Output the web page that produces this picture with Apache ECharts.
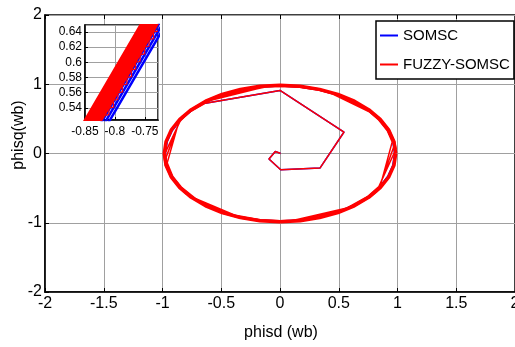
<!DOCTYPE html>
<html>
<head>
<meta charset="utf-8">
<script src="https://cdn.jsdelivr.net/npm/echarts@6/dist/echarts.min.js"></script>
<style>
  html, body { margin: 0; padding: 0; background: #fff; }
  #chart { width: 515px; height: 347px; }
</style>
</head>
<body>
<div id="chart"></div>
<script>
// flux locus, phisd vs phisq (wb)
var startup = [[0.005, 0], [0.005, 0.02], [-0.04, 0.03], [-0.094, -0.08], [0.006, -0.235],
  [0.34, -0.21], [0.545, 0.31], [0, 0.91], [-0.66, 0.72]];

var somscRing = [[-0.747, 0.627], [-0.844, 0.488], [-0.916, 0.333], [-0.960, 0.169], [-0.975, 0],
  [-0.960, -0.169], [-0.916, -0.333], [-0.844, -0.488], [-0.747, -0.627], [-0.627, -0.747],
  [-0.488, -0.844], [-0.333, -0.916], [-0.169, -0.960], [0, -0.975], [0.169, -0.960],
  [0.333, -0.916], [0.488, -0.844], [0.627, -0.747], [0.747, -0.627], [0.844, -0.488],
  [0.916, -0.333], [0.960, -0.169], [0.975, 0], [0.960, 0.169], [0.916, 0.333],
  [0.844, 0.488], [0.747, 0.627], [0.627, 0.747], [0.488, 0.844], [0.333, 0.916],
  [0.169, 0.960], [0, 0.975], [-0.169, 0.960], [-0.333, 0.916], [-0.488, 0.844],
  [-0.627, 0.747], [-0.747, 0.627]];

var fuzzyRing = [[0.985, 0], [0.970, 0.171], [0.926, 0.337], [0.853, 0.493], [0.755, 0.633],
  [0.633, 0.755], [0.493, 0.853], [0.337, 0.926], [0.171, 0.970], [0, 0.985],
  [-0.171, 0.970], [-0.337, 0.926], [-0.493, 0.853], [-0.633, 0.755], [-0.755, 0.633],
  [-0.853, 0.493], [-0.926, 0.337], [-0.970, 0.171], [-0.985, 0], [-0.970, -0.171],
  [-0.926, -0.337], [-0.853, -0.493], [-0.755, -0.633], [-0.633, -0.755], [-0.493, -0.853],
  [-0.337, -0.926], [-0.171, -0.970], [0, -0.985], [0.171, -0.970], [0.337, -0.926],
  [0.493, -0.853], [0.633, -0.755], [0.755, -0.633], [0.853, -0.493], [0.926, -0.337],
  [0.970, -0.171], [0.985, 0]];

// loops with the sector chords
var fuzzyLoopA = [[-0.751, 0.630], [-0.849, 0.490], [-0.976, -0.085], [-0.965, -0.171], [-0.921, -0.335],
  [-0.849, -0.490], [-0.761, -0.616], [-0.429, -0.881], [-0.335, -0.921], [-0.171, -0.965],
  [0, -0.98], [0.069, -0.978], [0.534, -0.822], [0.630, -0.751], [0.751, -0.630],
  [0.840, -0.505], [0.973, 0.120], [0.965, 0.171], [0.921, 0.335], [0.849, 0.490],
  [0.803, 0.563], [0.490, 0.849], [0.335, 0.921], [0.171, 0.965], [0, 0.98],
  [-0.085, 0.976], [-0.563, 0.803], [-0.630, 0.751], [-0.751, 0.630]];
var fuzzyLoopB = [[-0.743, 0.624], [-0.840, 0.485], [-0.864, 0.440], [-0.960, -0.135], [-0.912, -0.332],
  [-0.840, -0.485], [-0.721, -0.649], [-0.379, -0.893], [-0.169, -0.955], [0, -0.97],
  [0.118, -0.963], [0.570, -0.785], [0.743, -0.624], [0.856, -0.455], [0.955, 0.168],
  [0.912, 0.332], [0.840, 0.485], [0.764, 0.598], [0.440, 0.864], [0.332, 0.912],
  [0.168, 0.955], [0, 0.97], [-0.135, 0.961], [-0.597, 0.764], [-0.743, 0.624]];
var fuzzyLoopC = [[-0.758, 0.636], [-0.830, 0.539], [-0.989, -0.035], [-0.975, -0.172], [-0.930, -0.339],
  [-0.857, -0.495], [-0.801, -0.582], [-0.480, -0.866], [-0.339, -0.930], [-0.172, -0.975],
  [0.017, -0.990], [0.495, -0.857], [0.636, -0.758], [0.758, -0.636], [0.821, -0.554],
  [0.988, 0.069], [0.975, 0.172], [0.930, 0.339], [0.840, 0.525], [0.539, 0.830],
  [0.339, 0.930], [0.172, 0.975], [-0.035, 0.989], [-0.525, 0.840], [-0.636, 0.758],
  [-0.758, 0.636]];

// zoomed window near (-0.8, 0.6): repeated crossings of the window
var fuzzyZoom = [[-0.868, 0.50], [-0.742, 0.67], [-0.738, 0.67], [-0.864, 0.50], [-0.860, 0.50],
  [-0.734, 0.67], [-0.730, 0.67], [-0.856, 0.50], [-0.852, 0.50], [-0.726, 0.67],
  [-0.722, 0.67], [-0.848, 0.50], [-0.844, 0.50], [-0.718, 0.67], [-0.714, 0.67],
  [-0.840, 0.50]];
var fuzzyZoomSteps = [[-0.818, 0.53], [-0.810, 0.531], [-0.810, 0.54], [-0.802, 0.541],
  [-0.803, 0.55], [-0.795, 0.551], [-0.795, 0.56], [-0.787, 0.561], [-0.788, 0.57], [-0.780, 0.571],
  [-0.780, 0.58], [-0.772, 0.581], [-0.773, 0.59], [-0.765, 0.591], [-0.766, 0.60], [-0.758, 0.601],
  [-0.758, 0.61], [-0.750, 0.611], [-0.751, 0.62], [-0.743, 0.621], [-0.743, 0.63], [-0.735, 0.631],
  [-0.736, 0.64], [-0.728, 0.641]];
var somscZoom = [[-0.838, 0.50], [-0.712, 0.67], [-0.706, 0.67], [-0.832, 0.50], [-0.826, 0.50],
  [-0.700, 0.67]];

var FONT = '"Liberation Sans", Arial, sans-serif';
var BLUE = '#0000ff';
var RED = '#ff0000';

var chart = echarts.init(document.getElementById('chart'));

var gridLine = { show: true, lineStyle: { color: '#a0a0a0', width: 1 } };
var frame = { onZero: false, lineStyle: { color: '#000', width: 1.5 } };

var option = {
  animation: false,
  grid: [
    { left: 45, right: 0, top: 15, bottom: 55, outerBoundsMode: 'none',
      show: true, borderColor: '#000', borderWidth: 1.5 },
    { left: 85, top: 25, width: 73, height: 95, outerBoundsMode: 'none', show: true, z: 5,
      backgroundColor: '#fff', borderColor: '#000', borderWidth: 1.5 }
  ],
  xAxis: [
    { type: 'value', gridIndex: 0, min: -2, max: 2, interval: 0.5,
      axisLine: frame,
      axisTick: { inside: true, length: 4, lineStyle: { color: '#000' } },
      axisLabel: { color: '#000', fontSize: 16, fontFamily: FONT, margin: 4 },
      splitLine: gridLine },
    { type: 'value', gridIndex: 0, position: 'top', min: -2, max: 2, interval: 0.5,
      axisLine: { show: false, onZero: false },
      axisTick: { inside: true, length: 4, lineStyle: { color: '#000' } },
      axisLabel: { show: false }, splitLine: { show: false } },
    { type: 'value', gridIndex: 1, min: -0.85, max: -0.728, interval: 0.05, z: 5,
      axisLine: frame,
      axisTick: { inside: true, length: 3, lineStyle: { color: '#000' } },
      axisLabel: { color: '#000', fontSize: 12, fontFamily: FONT, margin: 6 },
      splitLine: gridLine }
  ],
  yAxis: [
    { type: 'value', gridIndex: 0, min: -2, max: 2, interval: 1,
      axisLine: frame,
      axisTick: { inside: true, length: 4, lineStyle: { color: '#000' } },
      axisLabel: { color: '#000', fontSize: 16, fontFamily: FONT, margin: 3 },
      splitLine: gridLine },
    { type: 'value', gridIndex: 1, min: 0.524, max: 0.649, splitNumber: 6, z: 5,
      axisLine: frame,
      axisTick: { inside: true, length: 3, lineStyle: { color: '#000' } },
      axisLabel: { color: '#000', fontSize: 12, fontFamily: FONT, margin: 3,
        showMinLabel: false, showMaxLabel: false },
      splitLine: gridLine }
  ],
  legend: {
    data: ['SOMSC', 'FUZZY-SOMSC'],
    orient: 'vertical', left: 376, top: 21,
    padding: [7, 4, 7, 4], itemGap: 14, itemWidth: 18, itemHeight: 2, icon: 'rect',
    backgroundColor: '#fff', borderColor: '#000', borderWidth: 1.5, borderRadius: 0,
    textStyle: { color: '#000', fontSize: 15, fontFamily: FONT }
  },
  graphic: [
    { type: 'text', x: 281, y: 333,
      style: { text: 'phisd (wb)', fill: '#000', font: '16px ' + FONT, textAlign: 'center', textVerticalAlign: 'middle' } },
    { type: 'text', x: 19, y: 135, rotation: Math.PI / 2,
      style: { text: 'phisq(wb)', fill: '#000', font: '16px ' + FONT, textAlign: 'center', textVerticalAlign: 'middle' } }
  ],
  series: [
    { name: 'SOMSC', type: 'line', xAxisIndex: 0, yAxisIndex: 0, color: BLUE, z: 2,
      showSymbol: false, symbol: 'none', lineStyle: { color: BLUE, width: 1.5 },
      data: startup.concat(somscRing) },
    { name: 'FUZZY-SOMSC', type: 'line', xAxisIndex: 0, yAxisIndex: 0, color: RED, z: 3,
      showSymbol: false, symbol: 'none', lineStyle: { color: RED, width: 3.5 },
      data: fuzzyRing },
    { name: 'FUZZY-SOMSC', type: 'line', xAxisIndex: 0, yAxisIndex: 0, color: RED, z: 4,
      showSymbol: false, symbol: 'none', lineStyle: { color: RED, width: 1.5 },
      data: startup.concat(fuzzyLoopA, fuzzyLoopB, fuzzyLoopC) },
    { name: 'SOMSC', type: 'line', xAxisIndex: 2, yAxisIndex: 1, color: BLUE, z: 6,
      showSymbol: false, symbol: 'none', lineStyle: { color: BLUE, width: 2.5 },
      data: somscZoom },
    { name: 'FUZZY-SOMSC', type: 'line', xAxisIndex: 2, yAxisIndex: 1, color: RED, z: 7,
      showSymbol: false, symbol: 'none', lineStyle: { color: RED, width: 2.2 },
      data: fuzzyZoom },
    { name: 'FUZZY-SOMSC', type: 'line', xAxisIndex: 2, yAxisIndex: 1, color: RED, z: 7,
      showSymbol: false, symbol: 'none', lineStyle: { color: RED, width: 1.2 },
      data: fuzzyZoomSteps }
  ]
};

chart.setOption(option);
</script>
</body>
</html>
